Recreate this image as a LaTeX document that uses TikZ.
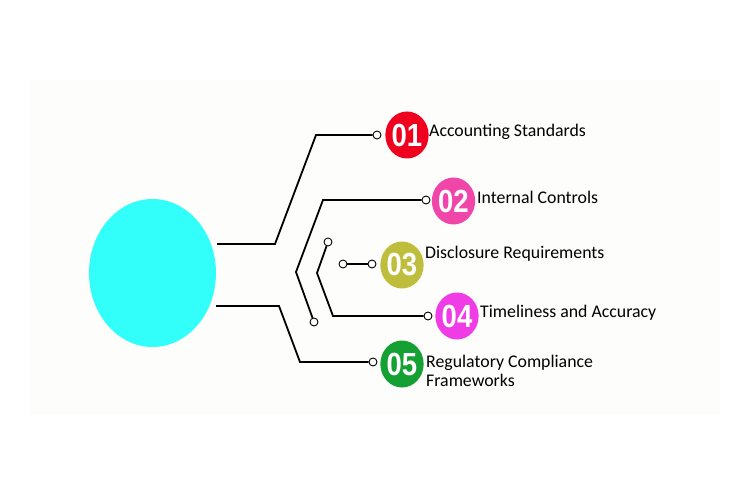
\documentclass[tikz,border=0pt]{standalone}
\usepackage{fontspec}
\setmainfont{Carlito}
\newfontfamily\numfont{Liberation Sans}
\usetikzlibrary{shapes.geometric}
\definecolor{hubcyan}{RGB}{51,255,250}
\definecolor{c1}{RGB}{238,0,30}
\definecolor{c2}{RGB}{240,70,170}
\definecolor{c3}{RGB}{190,190,60}
\definecolor{c4}{RGB}{240,60,230}
\definecolor{c5}{RGB}{20,160,50}
\definecolor{panel}{RGB}{253,253,252}
\newcommand{\numtxt}[1]{\scalebox{0.86}[1]{#1}}
\begin{document}
\begin{tikzpicture}[x=1pt,y=-1pt,
 wire/.style={line width=1.8pt, black},
 dot/.style={circle, draw=black, line width=0.9pt, fill=white, minimum size=8pt, inner sep=0pt},
 num/.style={ellipse, minimum width=40pt, minimum height=47pt, inner sep=0pt, text=white, font=\numfont\bfseries\fontsize{32}{32}\selectfont},
 lbl/.style={anchor=base west, inner sep=0pt, font=\fontsize{17.8}{19}\selectfont, align=left}]
\useasboundingbox (0,0) rectangle (750,500);
\fill[white] (0,0) rectangle (750,500);
\fill[panel] (30,80) rectangle (720,415);

% hub
\node[ellipse, fill=hubcyan, minimum width=127pt, minimum height=148pt, inner sep=0pt] (hub) at (152.5,273) {};

% number badges
\node[num, fill=c1] (n1) at (407,135) {\numtxt{01}};
\node[num, fill=c2] (n2) at (453.5,201) {\numtxt{02}};
\node[num, fill=c3] (n3) at (402,265) {\numtxt{03}};
\node[num, fill=c4] (n4) at (457,316) {\numtxt{04}};
\node[num, fill=c5] (n5) at (402,364) {\numtxt{05}};

% labels
\node[lbl] (l1) at (429,137) {Accounting Standards};
\node[lbl] (l2) at (477,204) {Internal Controls};
\node[lbl] (l3) at (425,258) {Disclosure Requirements};
\node[lbl] (l4) at (480,317) {Timeliness and Accuracy};
\node[lbl, anchor=west] (l5) at (426,371) {Regulatory Compliance\\Frameworks};

% end dots
\node[dot] (e1) at (377,135) {};
\node[dot] (e2) at (426,200) {};
\node[dot] (s2) at (314,322) {};
\node[dot] (s4) at (328,242) {};
\node[dot] (e4) at (428,316) {};
\node[dot] (a3) at (343,264) {};
\node[dot] (e3) at (372,264) {};
\node[dot] (e5) at (373,362) {};

% bend points
\coordinate (h1) at (217,244);
\coordinate (b1a) at (275,244);
\coordinate (b1b) at (316,135);
\coordinate (b2a) at (296,272);
\coordinate (b2b) at (323,200);
\coordinate (b4a) at (317,273);
\coordinate (b4b) at (333,316);
\coordinate (h5) at (216,306);
\coordinate (b5a) at (279,306);
\coordinate (b5b) at (300,362);

% connectors
\draw[wire] (h1) -- (b1a) -- (b1b) -- (e1);
\draw[wire] (s2) -- (b2a) -- (b2b) -- (e2);
\draw[wire] (s4) -- (b4a) -- (b4b) -- (e4);
\draw[wire] (a3) -- (e3);
\draw[wire] (h5) -- (b5a) -- (b5b) -- (e5);
\end{tikzpicture}
\end{document}
